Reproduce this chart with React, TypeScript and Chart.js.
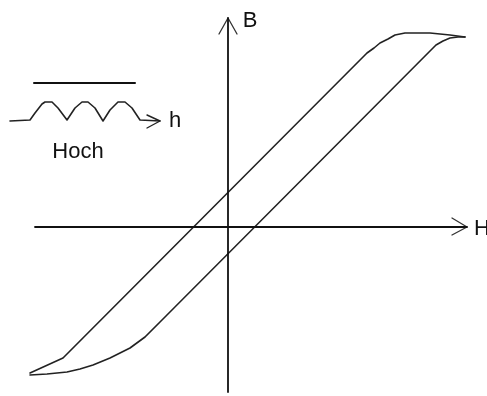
import React, { useEffect, useRef } from "react";
import { Chart, registerables } from "chart.js";

Chart.register(...registerables);

// Hysteresis loop B(H), field units relative to the origin
// descending branch (from saturation at +H back down to -H)
const descendH = [237, 222, 202, 177, 167, 160, 152, 146, 139, -165, -198];
const descendB = [190, 192, 194, 194, 192, 188, 184, 179, 174, -131, -146];
// ascending branch (from -H saturation up to +H saturation)
const ascendH = [-198, -181, -161, -148, -135, -118, -98, -83, -68, 208, 215, 222, 230, 237];
const ascendB = [-148, -147, -145, -142, -138, -131, -121, -110, -95, 182, 186, 189, 190, 190];

// axes with arrows
const axisBH = [0, 0];
const axisBB = [-165, 209];
const arrowBH = [-9, 0, 9];
const arrowBB = [193, 209, 193];
const axisHH = [-193, 239];
const axisHB = [0, 0];
const arrowHH = [224, 239, 224];
const arrowHB = [9, 0, -8];

// inset: coil with a core bar above it
const barH = [-194, -93];
const barB = [144, 144];
const coilH = [-218, -198, -193, -186, -183, -176, -170, -161, -153, -146, -140, -133, -125, -118, -110, -103, -96, -88, -68];
const coilB = [106, 107, 114, 123, 125, 125, 119, 107, 119, 125, 125, 119, 106, 117, 125, 125, 119, 107, 106];
const coilArrowH = [-81, -68, -81];
const coilArrowB = [112, 106, 99];

const labels = [
  { text: "B", h: 22, b: 200 },
  { text: "H", h: 254, b: -8 },
  { text: "h", h: -53, b: 100 },
  { text: "Hoch", h: -150, b: 69 },
];

const pts = (xs: number[], ys: number[]) => xs.map((x, i) => ({ x, y: ys[i] }));

const line = (xs: number[], ys: number[], width: number, color = "#111") => ({
  data: pts(xs, ys),
  showLine: true,
  borderColor: color,
  borderWidth: width,
  pointRadius: 0,
  tension: 0,
  fill: false,
  clip: false as const,
  borderCapStyle: "round" as const,
  borderJoinStyle: "round" as const,
});

const textPlugin = {
  id: "sketchLabels",
  afterDatasetsDraw(chart: any) {
    const { ctx, scales } = chart;
    ctx.save();
    ctx.fillStyle = "#111";
    ctx.font = "22px 'Liberation Sans'";
    ctx.textAlign = "center";
    ctx.textBaseline = "alphabetic";
    for (const l of labels) {
      ctx.fillText(l.text, scales.x.getPixelForValue(l.h), scales.y.getPixelForValue(l.b));
    }
    ctx.restore();
  },
};

export default function App() {
  const ref = useRef<HTMLCanvasElement>(null);

  useEffect(() => {
    if (!ref.current) return;
    const chart = new Chart(ref.current, {
      type: "scatter",
      data: {
        datasets: [
          line(axisBH, axisBB, 1.8),
          line(arrowBH, arrowBB, 1.3, "#333"),
          line(axisHH, axisHB, 1.8),
          line(arrowHH, arrowHB, 1.3, "#333"),
          line(descendH, descendB, 1.6, "#222"),
          line(ascendH, ascendB, 1.6, "#222"),
          line(barH, barB, 2),
          line(coilH, coilB, 1.6, "#222"),
          line(coilArrowH, coilArrowB, 1.4, "#222"),
        ] as any,
      },
      options: {
        animation: false,
        responsive: false,
        maintainAspectRatio: false,
        layout: { padding: 0 },
        plugins: { legend: { display: false }, tooltip: { enabled: false } },
        events: [],
        scales: {
          x: { type: "linear", min: -228, max: 259, display: false },
          y: { type: "linear", min: -169, max: 227, display: false },
        },
      },
      plugins: [textPlugin],
    });
    return () => chart.destroy();
  }, []);

  return (
    <div style={{ position: "fixed", left: 0, top: 0, width: 487, height: 396, background: "#fff" }}>
      <canvas ref={ref} width={487} height={396} style={{ display: "block" }} />
    </div>
  );
}
